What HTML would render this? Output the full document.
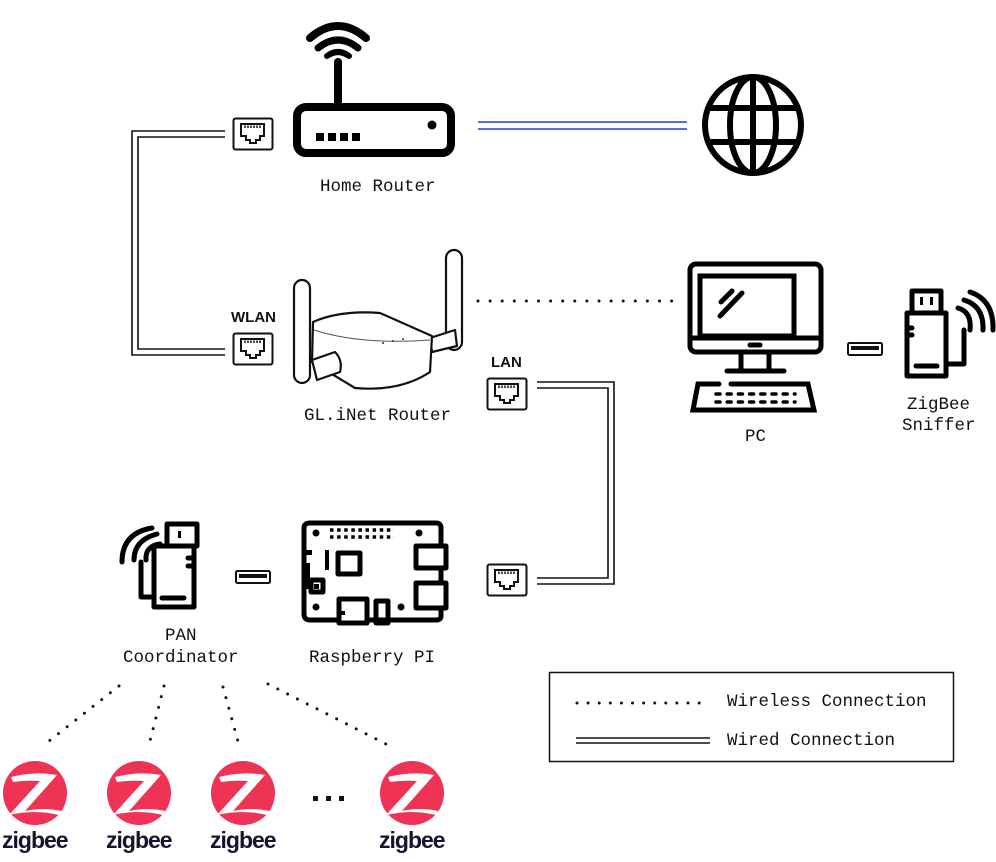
<!DOCTYPE html>
<html><head><meta charset="utf-8"><style>
html,body{margin:0;padding:0;background:#fff;}
svg{display:block}
text{font-family:"Liberation Mono",monospace;font-size:17.5px;fill:#111}
.zt{font-family:"Liberation Sans",sans-serif;font-weight:bold;font-size:23px;fill:#151530;letter-spacing:-1px}
.bl{font-family:"Liberation Sans",sans-serif;font-weight:bold;font-size:15px}
</style></head><body>
<svg width="996" height="862" viewBox="0 0 996 862" xmlns="http://www.w3.org/2000/svg">
<defs>
<g id="port">
<rect x="0.5" y="0.5" width="39" height="31" rx="2" fill="#fff" stroke="#111" stroke-width="2"/>
<path d="M8 6 H31 V18 H27 V22 H23 V25 H17 V22 H13 V18 H8 Z" fill="none" stroke="#111" stroke-width="2"/>
<path d="M12 7.5 V10 M15 7.5 V10 M18 7.5 V10 M21 7.5 V10 M24 7.5 V10 M27 7.5 V10" stroke="#111" stroke-width="1.5"/>
</g>
<g id="usb">
<rect x="1" y="1" width="34" height="12" rx="1.5" fill="#fff" stroke="#111" stroke-width="2"/>
<rect x="4" y="4" width="28" height="4" fill="#111"/>
</g>
<g id="zig">
<circle cx="0" cy="0" r="32" fill="#EE3355"/>
<path d="M-24 -16 Q0 -22 22 -18 L-10 18 Q8 14 26 18 L24 22 Q0 16 -26 22 L5 -12 Q-8 -13 -22 -11 Z" fill="#fff"/>
</g>
</defs>

<path d="M310 38 Q338 14 366 38" fill="none" stroke="#000" stroke-width="8" stroke-linecap="round"/>
<path d="M318 48 Q338 32 358 48" fill="none" stroke="#000" stroke-width="7" stroke-linecap="round"/>
<path d="M327 56 Q338 48 349 56" fill="none" stroke="#000" stroke-width="6" stroke-linecap="round"/>
<line x1="338" y1="62" x2="338" y2="104" stroke="#000" stroke-width="8" stroke-linecap="round"/>
<rect x="297" y="107" width="154" height="46" rx="9" fill="none" stroke="#000" stroke-width="8"/>
<rect x="316" y="133" width="8" height="8" fill="#000"/><rect x="328" y="133" width="8" height="8" fill="#000"/><rect x="340" y="133" width="8" height="8" fill="#000"/><rect x="352" y="133" width="8" height="8" fill="#000"/>
<circle cx="432" cy="125" r="4.5" fill="#000"/>
<text x="320" y="191">Home Router</text>

<line x1="478" y1="122" x2="687" y2="122" stroke="#1a3fd0" stroke-width="1.6"/>
<line x1="478" y1="129" x2="687" y2="129" stroke="#1a3fd0" stroke-width="1.6"/>

<g fill="none" stroke="#000" stroke-width="6">
<circle cx="753" cy="125" r="48"/>
<ellipse cx="753" cy="125" rx="23" ry="48"/>
<line x1="753" y1="77" x2="753" y2="173"/>
<line x1="707" y1="108" x2="799" y2="108"/>
<line x1="707" y1="142" x2="799" y2="142"/>
</g>

<use href="#port" x="233" y="118"/>
<use href="#port" x="233" y="333"/>
<use href="#port" x="487" y="378"/>
<use href="#port" x="487" y="564"/>

<path d="M225 131 H132 V355 H225" fill="none" stroke="#111" stroke-width="1.6"/>
<path d="M225 137 H138 V349 H225" fill="none" stroke="#111" stroke-width="1.6"/>
<path d="M537 382 H614 V584 H537" fill="none" stroke="#111" stroke-width="1.6"/>
<path d="M537 388 H608 V578 H537" fill="none" stroke="#111" stroke-width="1.6"/>

<text x="231" y="322" class="bl">WLAN</text>
<text x="491" y="367" class="bl">LAN</text>

<g fill="#fff" stroke="#111" stroke-width="2.2" stroke-linejoin="round">
<rect x="446" y="250" width="16" height="100" rx="8"/>
<path d="M430 338 L455 330 L457 346 L432 352 Z"/>
<path d="M313 322 Q340 310 380 313 L432 336 L430 372 Q400 392 355 388 L312 362 Z"/>
<rect x="294" y="280" width="16" height="103" rx="8"/>
<path d="M312 360 L335 352 Q343 360 340 372 L317 380 Z"/>
</g>
<path d="M314 330 Q360 345 430 340" fill="none" stroke="#555" stroke-width="1"/>
<circle cx="383" cy="343" r="1" fill="#333"/><circle cx="393" cy="341" r="1" fill="#333"/><circle cx="403" cy="339" r="1" fill="#333"/>
<text x="304" y="420">GL.iNet Router</text>

<line x1="478" y1="301" x2="672" y2="301" stroke="#111" stroke-width="3" stroke-dasharray="0 12.1" stroke-linecap="round"/>

<g fill="none" stroke="#000" stroke-width="5" stroke-linecap="round">
<rect x="690" y="264" width="131" height="88" rx="6"/>
<path d="M794 319 V276 H700 V336"/>
<path d="M794 319 V336 H700"/>
<line x1="690" y1="338" x2="821" y2="338"/>
<line x1="732" y1="291" x2="721" y2="302"/>
<line x1="742" y1="293" x2="720" y2="316"/>
<line x1="750" y1="345" x2="760" y2="345"/>
<path d="M741 352 V370 M769 352 V370"/>
<line x1="727" y1="371" x2="784" y2="371"/>
<path d="M719 384 H698 L693 410 H814 L808 384 H731"/>
</g>
<g stroke="#000" stroke-width="3.5" stroke-linecap="round">
<line x1="716" y1="394" x2="795" y2="394" stroke-dasharray="4 7.2"/>
<line x1="716" y1="402" x2="795" y2="402" stroke-dasharray="4 7.2"/>
</g>
<text x="745" y="441">PC</text>

<use href="#usb" x="847" y="342"/>

<g fill="none" stroke="#000" stroke-width="5" stroke-linecap="round" stroke-linejoin="round">
<rect x="912" y="291" width="29" height="22"/>
<path d="M907 313 H946 V376 H907 Z"/>
<line x1="907" y1="328" x2="912" y2="328"/><line x1="907" y1="335" x2="912" y2="335"/>
<line x1="916" y1="366" x2="937" y2="366"/>
<path d="M946 364 H964 V330"/>
<path d="M958 308 Q972 312 970 330"/>
<path d="M964 300 Q984 306 983 330"/>
<path d="M970 292 Q994 300 993 330"/>
</g>
<rect x="920" y="297" width="3" height="8" fill="#000"/><rect x="930" y="297" width="3" height="8" fill="#000"/>
<text x="907" y="409">ZigBee</text>
<text x="902" y="430">Sniffer</text>

<g fill="none" stroke="#000" stroke-width="5" stroke-linecap="round" stroke-linejoin="round">
<rect x="167" y="524" width="30" height="22"/>
<path d="M154 546 H194 V607 H154 Z"/>
<line x1="188" y1="558" x2="194" y2="558"/><line x1="188" y1="566" x2="194" y2="566"/>
<line x1="162" y1="598" x2="184" y2="598"/>
<path d="M154 597 H141 V562"/>
<path d="M146 560 Q145 546 160 544"/>
<path d="M134 560 Q134 540 157 534"/>
<path d="M122 562 Q122 533 152 528"/>
</g>
<rect x="165" y="531" width="3" height="7" fill="#000"/><rect x="178" y="531" width="3" height="7" fill="#000"/>
<text x="165" y="640">PAN</text>
<text x="123" y="662">Coordinator</text>

<use href="#usb" x="235" y="570"/>

<g fill="none" stroke="#000" stroke-width="5" stroke-linejoin="round">
<path d="M310 523 H436 Q441 523 441 528 V616 Q441 620 436 620 H310 Q304 620 304 614 V528 Q304 523 310 523 Z"/>
<rect x="416" y="546" width="30" height="22" fill="#fff"/>
<rect x="416" y="583" width="30" height="25" fill="#fff"/>
<rect x="339" y="599" width="28" height="24" fill="#fff"/>
<rect x="376" y="601" width="12" height="22"/>
<path d="M338 553 H360 V574 H338 Z"/>
<rect x="311" y="580" width="12" height="12"/>
</g>
<g fill="#000">
<circle cx="316" cy="533" r="3.5"/><circle cx="419" cy="533" r="3.5"/>
<circle cx="316" cy="607" r="3.5"/><circle cx="401" cy="607" r="3.5"/>
<rect x="306" y="550" width="6" height="5"/>
<rect x="325" y="550" width="4" height="20"/>
<rect x="306" y="563" width="4" height="26"/>
<rect x="314" y="584" width="5" height="5"/>
<rect x="341" y="611" width="4" height="4"/>
</g>
<g stroke="#000" stroke-width="3.5">
<line x1="330" y1="530" x2="394" y2="530" stroke-dasharray="3.5 3.6"/>
<line x1="330" y1="537" x2="394" y2="537" stroke-dasharray="3.5 3.6"/>
</g>
<text x="309" y="662">Raspberry PI</text>

<g stroke="#111" stroke-width="3" stroke-linecap="round" stroke-dasharray="0 11">
<line x1="119" y1="686" x2="44" y2="745"/>
<line x1="164" y1="686" x2="149" y2="745"/>
<line x1="223" y1="687" x2="239" y2="745"/>
<line x1="268" y1="684" x2="388" y2="745"/>
</g>

<use href="#zig" x="35" y="793"/>
<use href="#zig" x="139" y="793"/>
<use href="#zig" x="243" y="793"/>
<use href="#zig" x="412" y="793"/>
<text x="2" y="848" class="zt">zigbee</text>
<text x="106" y="848" class="zt">zigbee</text>
<text x="210" y="848" class="zt">zigbee</text>
<text x="379" y="848" class="zt">zigbee</text>
<g fill="#111"><rect x="313" y="796" width="5" height="5"/><rect x="326" y="796" width="5" height="5"/><rect x="339" y="796" width="5" height="5"/></g>

<rect x="549.5" y="672.5" width="404" height="89" fill="none" stroke="#111" stroke-width="1.5"/>
<line x1="577" y1="703" x2="710" y2="703" stroke="#111" stroke-width="3" stroke-linecap="round" stroke-dasharray="0 11.1"/>
<text x="727" y="706">Wireless Connection</text>
<line x1="576" y1="738" x2="710" y2="738" stroke="#111" stroke-width="1.6"/>
<line x1="576" y1="743" x2="710" y2="743" stroke="#111" stroke-width="1.6"/>
<text x="727" y="745">Wired Connection</text>
</svg>
</body></html>
